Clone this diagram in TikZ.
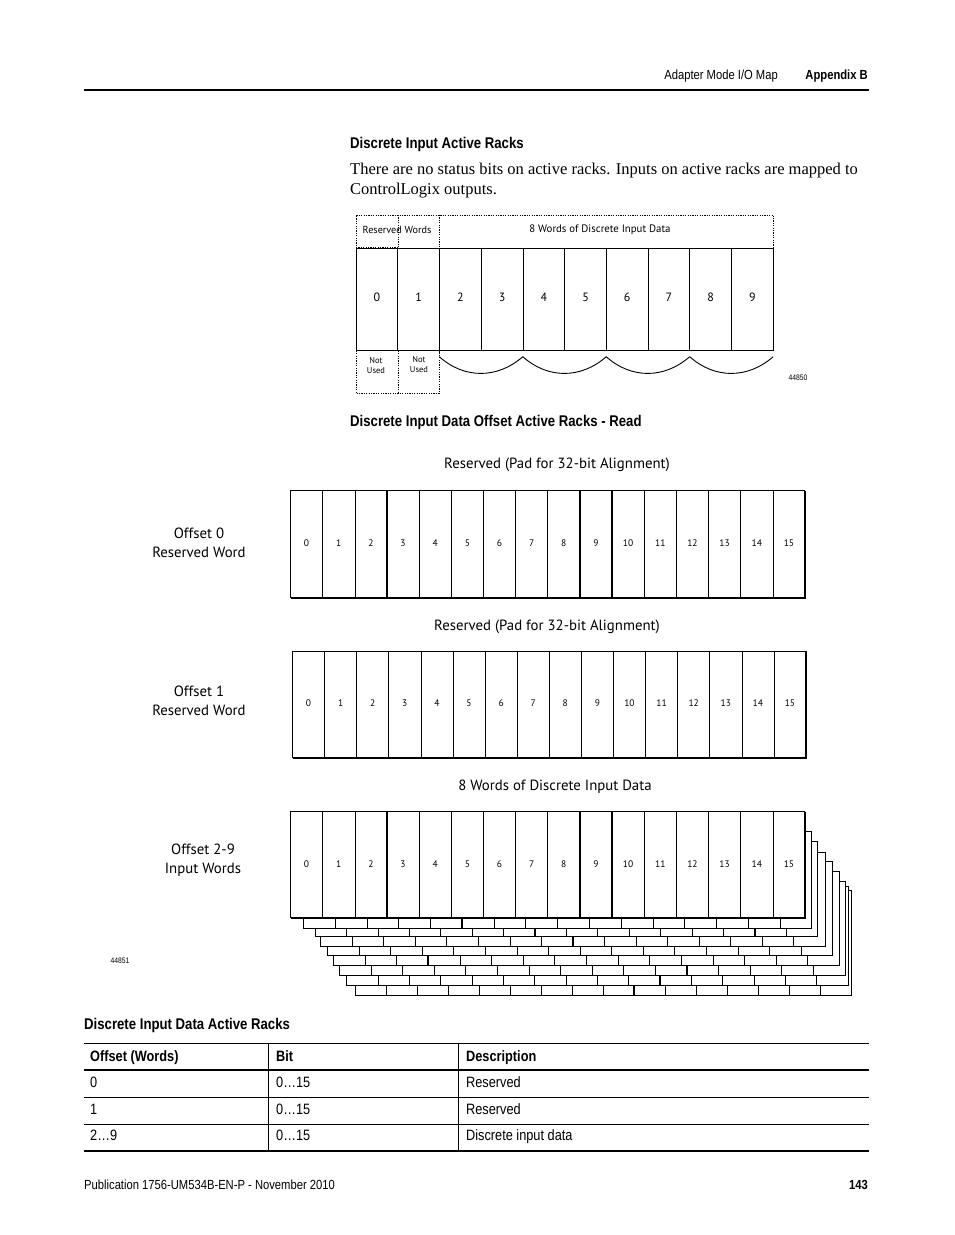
\documentclass[tikz,border=0pt]{standalone}
\usepackage{fontspec}
\setmainfont{Liberation Serif}
\newfontfamily\condfont[FakeStretch=0.85]{Liberation Sans}
\newfontfamily\diagfont{PT Sans}

\tikzset{
  rackline/.style={line width=0.7pt},
  dotline/.style={line width=0.7pt,dash pattern=on 1.2pt off 1.2pt},
  headtext/.style={anchor=base west,inner sep=0pt,font=\condfont\bfseries\fontsize{15.5}{17}\selectfont},
  bodytext/.style={anchor=base west,inner sep=0pt,font=\fontsize{16.5}{19}\selectfont},
  pagetext/.style={inner sep=0pt,font=\condfont\fontsize{13.2}{15}\selectfont},
  tabtext/.style={anchor=base west,inner sep=0pt,font=\condfont\fontsize{15}{17}\selectfont},
  racknum/.style={inner sep=0pt,font=\diagfont\fontsize{12}{13}\selectfont},
  bitnum/.style={inner sep=0pt,font=\diagfont\fontsize{9.5}{11}\selectfont},
  smalltext/.style={inner sep=0pt,align=center,font=\diagfont\fontsize{8.5}{10}\selectfont},
  offtext/.style={inner sep=0pt,align=center,font=\diagfont\fontsize{14.8}{19.5}\selectfont},
  figno/.style={inner sep=0pt,font=\condfont\fontsize{8}{9}\selectfont}
}

% one 16-bit word: left, top, right, bottom
\newcommand{\bitword}[4]{%
  \fill[white] (#1,#2) rectangle (#3,#4);
  \foreach \i in {1,...,15}{
    \pgfmathsetmacro\lw{(\i==3 || \i==9 || \i==10) ? 1.4 : 0.6}
    \draw[line width=\lw pt] ({#1+\i*(#3-#1)/16},#2) -- ({#1+\i*(#3-#1)/16},#4);
  }
  \draw[rackline] (#3,#2) -- (#1,#2) -- (#1,#4);
  \draw[line width=1.5pt] (#1,#4) -- (#3,#4) -- (#3,#2);
}

\begin{document}
\begin{tikzpicture}[x=1pt,y=-1pt]
  \useasboundingbox (0,0) rectangle (954,1235);
  \fill[white] (0,0) rectangle (954,1235);

  % Page header
  \node[pagetext,anchor=base east] (hdr) at (778,79) {Adapter Mode I/O Map};
  \node[pagetext,anchor=base east,font=\condfont\bfseries\fontsize{13.2}{15}\selectfont] (app) at (868,79) {Appendix B};
  \draw[line width=2.5pt] (84,90) -- (869,90);

  % Intro text
  \node[headtext] (h1) at (350,148) {Discrete Input Active Racks};
  \node[bodytext] (t1) at (350,174) {There are no status bits on active racks. Inputs on active racks are mapped to};
  \node[bodytext] (t2) at (350,194) {ControlLogix outputs.};

  % Rack diagram
  \draw[dotline] (356,248.3) -- (356,215) -- (773.3,215) -- (773.3,248.3);
  \draw[dotline] (398.3,215) -- (398.3,248.3);
  \draw[dotline] (439.3,215) -- (439.3,248.3);
  \draw[dotline] (356,247) -- (398.3,247);
  \node[smalltext,font=\diagfont\fontsize{10.2}{11}\selectfont] (resw) at (397,230) {Reserved Words};
  \node[smalltext,font=\diagfont\fontsize{10.8}{11}\selectfont] (eightw) at (600,230) {8 Words of Discrete Input Data};

  \draw[rackline] (356,248.3) rectangle (773.3,350.7);
  \foreach \i in {1,...,9}{
    \pgfmathsetmacro\lw{(\i==2 || \i==5 || \i==6 || \i==9) ? 1.6 : 0.7}
    \draw[line width=\lw pt] ({356+\i*41.73},248.3) -- ({356+\i*41.73},350.7);
  }
  \foreach \i in {0,...,9}
    \node[racknum] (r\i) at ({356+(\i+0.5)*41.73},297) {\i};

  \draw[dotline] (356,350.7) -- (356,393.3) -- (439.3,393.3) -- (439.3,350.7);
  \draw[dotline] (398.3,350.7) -- (398.3,393.3);
  \node[smalltext] (nu0) at (376,366) {Not\\Used};
  \node[smalltext] (nu1) at (419,365) {Not\\Used};

  % Brackets
  \foreach \a in {439.3,522.8,606.2,689.7}
    \draw[line width=0.9pt] (\a,356.7) .. controls ({\a+25},379) and ({\a+58},379) .. ({\a+83.5},356.7);
  \node[figno] (f1) at (798,378) {44850};

  \node[headtext] (h2) at (350,426) {Discrete Input Data Offset Active Racks - Read};

  % Offset 0
  \node[offtext] (pad0) at (557,465) {Reserved (Pad for 32-bit Alignment)};
  \node[offtext] (off0) at (199,543) {Offset 0\\Reserved Word};
  \bitword{290.5}{490.5}{805}{598}
  \foreach \i in {0,...,15}
    \node[bitnum] (a\i) at ({290.5+(\i+0.5)*514.5/16},543) {\i};

  % Offset 1
  \node[offtext] (pad1) at (547,627) {Reserved (Pad for 32-bit Alignment)};
  \node[offtext] (off1) at (199,701) {Offset 1\\Reserved Word};
  \bitword{292.5}{651}{806}{758}
  \foreach \i in {0,...,15}
    \node[bitnum] (b\i) at ({292.5+(\i+0.5)*513.5/16},703) {\i};

  % Offset 2-9
  \node[offtext] (dat) at (555,787) {8 Words of Discrete Input Data};
  \node[offtext] (off2) at (203,860) {Offset 2-9\\Input Words};
  \foreach \l/\t/\r/\b in {355.3/890/851/995, 346.7/886/848/985, 339.3/881/845/975,
      333.3/871/839.3/965, 327.3/861.7/832.7/955.3, 320.7/852/825/946,
      315/841.7/817.7/936, 303.3/831.7/811.7/928.3}{
    \fill[white] (\l,\t) rectangle (\r,\b);
    \draw[line width=0.8pt] (\l,\t) rectangle (\r,\b);
    \foreach \i in {1,...,15}{
      \pgfmathsetmacro\lw{(mod(\i+round(\l),7)==0) ? 1.4 : 0.6}
      \draw[line width=\lw pt] ({\l+\i*(\r-\l)/16},\t) -- ({\l+\i*(\r-\l)/16},\b);
    }
  }
  \bitword{290.5}{811.5}{805}{918}
  \foreach \i in {0,...,15}
    \node[bitnum] (c\i) at ({290.5+(\i+0.5)*514.5/16},864) {\i};
  \node[figno] (f2) at (120,961) {44851};

  % Table
  \node[headtext] (h3) at (84,1029) {Discrete Input Data Active Racks};
  \draw[line width=1pt] (84,1043.5) -- (869,1043.5);
  \draw[line width=1.2pt] (84,1070) -- (869,1070);
  \draw[line width=0.6pt] (84,1097) -- (869,1097);
  \draw[line width=0.6pt] (84,1124) -- (869,1124);
  \draw[line width=1.6pt] (84,1151) -- (869,1151);
  \draw[line width=0.6pt] (268,1043.5) -- (268,1151);
  \draw[line width=0.6pt] (458,1043.5) -- (458,1151);
  \node[tabtext,font=\condfont\bfseries\fontsize{15}{17}\selectfont] (c1) at (90,1061) {Offset (Words)};
  \node[tabtext,font=\condfont\bfseries\fontsize{15}{17}\selectfont] (c2) at (276,1061) {Bit};
  \node[tabtext,font=\condfont\bfseries\fontsize{15}{17}\selectfont] (c3) at (466,1061) {Description};
  \node[tabtext] (r1a) at (90,1087) {0};
  \node[tabtext] (r1b) at (276,1087) {0\ldots15};
  \node[tabtext] (r1c) at (466,1087) {Reserved};
  \node[tabtext] (r2a) at (90,1114) {1};
  \node[tabtext] (r2b) at (276,1114) {0\ldots15};
  \node[tabtext] (r2c) at (466,1114) {Reserved};
  \node[tabtext] (r3a) at (90,1140) {2\ldots9};
  \node[tabtext] (r3b) at (276,1140) {0\ldots15};
  \node[tabtext] (r3c) at (466,1140) {Discrete input data};

  % Page footer
  \node[pagetext,anchor=base west] (pub) at (84,1189) {Publication 1756-UM534B-EN-P - November 2010};
  \node[pagetext,anchor=base east,font=\condfont\bfseries\fontsize{13.2}{15}\selectfont] (pg) at (868,1189) {143};

\end{tikzpicture}
\end{document}
